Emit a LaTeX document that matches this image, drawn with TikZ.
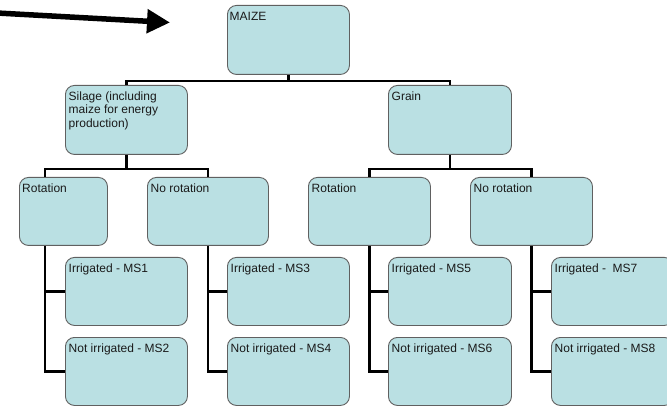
\documentclass[tikz,border=0pt]{standalone}
\usepackage{fontspec}
\setmainfont{Liberation Sans}
\usetikzlibrary{arrows.meta}
\definecolor{boxfill}{HTML}{BAE0E3}
\definecolor{boxdraw}{HTML}{606060}
\definecolor{txt}{HTML}{1A1A1A}
\begin{document}
\begin{tikzpicture}[x=1pt,y=-1pt,
  box/.style={draw=boxdraw, fill=boxfill, line width=0.9pt, rounded corners=9pt, inner sep=0pt, anchor=north west},
  lbl/.style={anchor=base west, inner sep=0pt, font=\fontsize{12}{13.4}\selectfont, text=txt, align=left},
  conn/.style={line width=2.6pt, black},
  bigarrow/.style={line width=5.5pt, -{Triangle[length=23pt,width=23pt]}}]
\useasboundingbox (0,0) rectangle (667,406);

% boxes
\node[box, minimum width=122pt, minimum height=69pt] (maize)  at (227,5)   {};
\node[box, minimum width=122pt, minimum height=69pt] (silage) at (65,85)   {};
\node[box, minimum width=123pt, minimum height=69pt] (grain)  at (388,85)  {};
\node[box, minimum width=88pt,  minimum height=68pt] (rot1)   at (19,177)  {};
\node[box, minimum width=121pt, minimum height=68pt] (norot1) at (147,177) {};
\node[box, minimum width=122pt, minimum height=68pt] (rot2)   at (308,177) {};
\node[box, minimum width=122pt, minimum height=68pt] (norot2) at (470,177) {};
\node[box, minimum width=122pt, minimum height=68pt] (ms1) at (65,257)  {};
\node[box, minimum width=122pt, minimum height=68pt] (ms2) at (65,337)  {};
\node[box, minimum width=122pt, minimum height=68pt] (ms3) at (227,257) {};
\node[box, minimum width=122pt, minimum height=68pt] (ms4) at (227,337) {};
\node[box, minimum width=123pt, minimum height=68pt] (ms5) at (388,257) {};
\node[box, minimum width=123pt, minimum height=68pt] (ms6) at (388,337) {};
\node[box, minimum width=122pt, minimum height=68pt] (ms7) at (551,257) {};
\node[box, minimum width=122pt, minimum height=68pt] (ms8) at (551,337) {};

% labels
\node[lbl] (tmaize)  at ([shift={(2.5,15.5)}]maize.north west)  {MAIZE};
\node[lbl] (tsilage) at ([shift={(3.5,42.3)}]silage.north west) {Silage (including\\maize for energy\\production)};
\node[lbl] (tgrain)  at ([shift={(3.5,15.5)}]grain.north west)  {Grain};
\node[lbl] (trot1)   at ([shift={(3,15.5)}]rot1.north west)     {Rotation};
\node[lbl] (tnorot1) at ([shift={(3.5,15.5)}]norot1.north west) {No rotation};
\node[lbl] (trot2)   at ([shift={(3.5,15.5)}]rot2.north west)   {Rotation};
\node[lbl] (tnorot2) at ([shift={(3.5,15.5)}]norot2.north west) {No rotation};
\node[lbl] (tms1) at ([shift={(3.5,15.5)}]ms1.north west) {Irrigated - MS1};
\node[lbl] (tms2) at ([shift={(3.5,15.5)}]ms2.north west) {Not irrigated - MS2};
\node[lbl] (tms3) at ([shift={(3.5,15.5)}]ms3.north west) {Irrigated - MS3};
\node[lbl] (tms4) at ([shift={(3.5,15.5)}]ms4.north west) {Not irrigated - MS4};
\node[lbl] (tms5) at ([shift={(3.5,15.5)}]ms5.north west) {Irrigated - MS5};
\node[lbl] (tms6) at ([shift={(3.5,15.5)}]ms6.north west) {Not irrigated - MS6};
\node[lbl] (tms7) at ([shift={(3.5,15.5)}]ms7.north west) {Irrigated -\ \ MS7};
\node[lbl] (tms8) at ([shift={(3.5,15.5)}]ms8.north west) {Not irrigated - MS8};

% connectors
\draw[conn] (maize.south) -- ++(0,6) coordinate (mj);
\draw[conn] (silage.north) |- (mj) -| (grain.north);

\draw[conn] (silage.south) -- ++(0,14) coordinate (sj);
\coordinate (r1x) at (45,0);
\draw[conn] (rot1.north -| r1x) |- (sj) -| (norot1.north);
\draw[conn] (grain.south) -- ++(0,14) coordinate (gj);
\draw[conn] (rot2.north) |- (gj) -| (norot2.north);

\coordinate (r1b) at (rot1.south -| r1x);
\draw[conn] (r1b) |- (ms2.west);
\draw[conn] (r1b |- ms1.west) -- (ms1.west);
\draw[conn] (norot1.south) |- (ms4.west);
\draw[conn] (norot1.south |- ms3.west) -- (ms3.west);
\draw[conn] (rot2.south) |- (ms6.west);
\draw[conn] (rot2.south |- ms5.west) -- (ms5.west);
\draw[conn] (norot2.south) |- (ms8.west);
\draw[conn] (norot2.south |- ms7.west) -- (ms7.west);

% arrow
\coordinate (atail) at (-3,13);
\coordinate (ahead) at (170,22.5);
\draw[bigarrow] (atail) -- (ahead);
\end{tikzpicture}
\end{document}
